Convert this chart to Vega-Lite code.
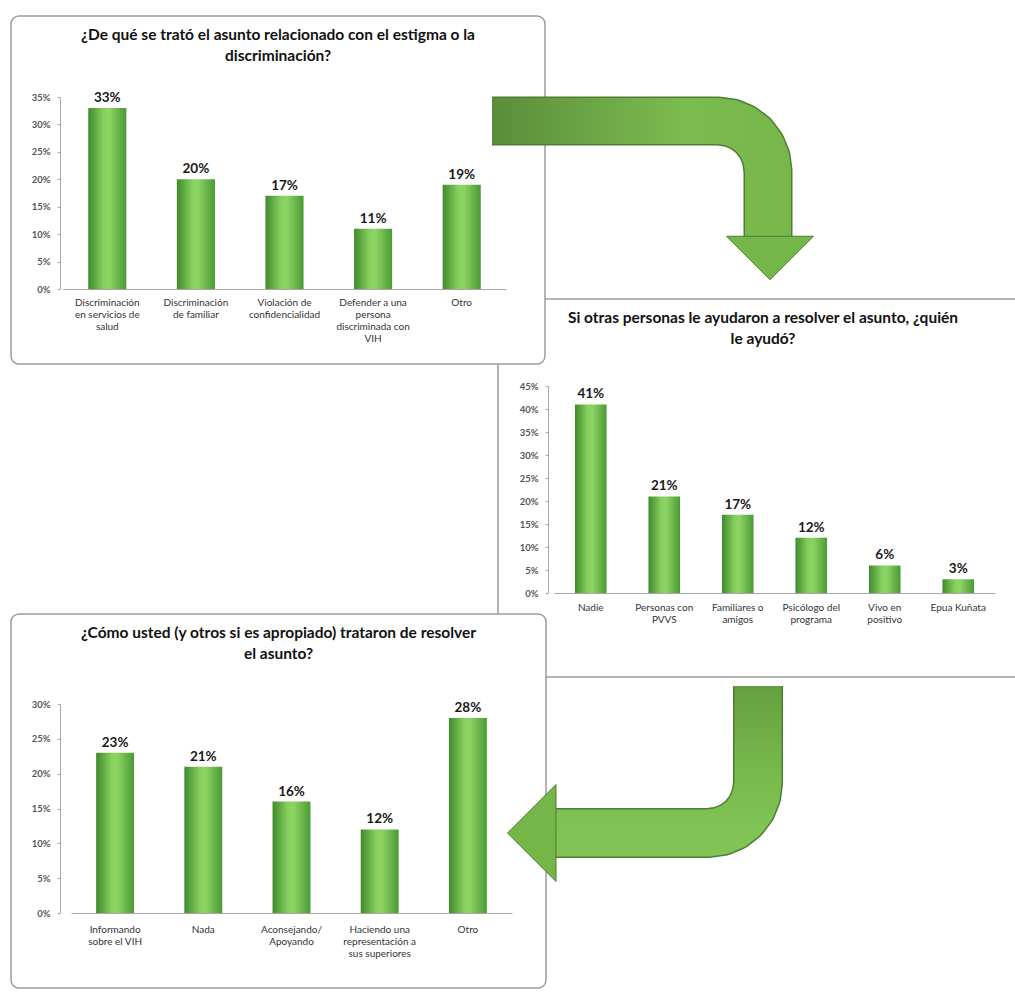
{
  "$schema": "https://vega.github.io/schema/vega-lite/v6.json",
  "background": "white",
  "padding": {"left": 8, "top": 15, "right": 0, "bottom": 5},
  "config": {"font": "Lato", "concat": {"spacing": 0}},
  "spacing": 0,
  "bounds": "flush",
  "vconcat": [
    {
      "spacing": 8,
      "bounds": "flush",
      "vconcat": [
        {
          "width": 1, "height": 275,
          "view": {"stroke": null, "fill": null},
          "data": {"values": [{"s": 1}]},
          "mark": {"type": "point", "opacity": 0},
          "encoding": {}
        },
        {
          "spacing": 0,
          "bounds": "flush",
          "hconcat": [
            {
              "width": 487, "height": 1,
              "view": {"stroke": null, "fill": null},
              "data": {"values": [{"s": 1}]},
              "mark": {"type": "point", "opacity": 0},
              "encoding": {}
            },
            {
              "width": 530,
              "height": 378,
              "view": {"stroke": "#9c9c9c", "strokeWidth": 1.5, "cornerRadius": 8, "fill": "white"},
              "title": {"text": ["Si otras personas le ayudaron a resolver el asunto, ¿quién", "le ayudó?"], "offset": -48, "fontSize": 15.5, "font": "Lato", "fontWeight": "bold", "lineHeight": 21, "anchor": "middle", "frame": "group", "color": "#111111"},
              "data": {"values": [
                {"cat": "Nadie", "value": 0.41},
                {"cat": "Personas con|PVVS", "value": 0.21},
                {"cat": "Familiares o|amigos", "value": 0.17},
                {"cat": "Psicólogo del|programa", "value": 0.12},
                {"cat": "Vivo en|positivo", "value": 0.06},
                {"cat": "Epua Kuñata", "value": 0.03}
              ]},
              "encoding": {
                "x": {"field": "cat", "type": "nominal", "sort": null,
                  "scale": {"range": [56, 497], "paddingInner": 0.57, "paddingOuter": 0.285},
                  "axis": {"title": null, "offset": -84, "labelExpr": "split(datum.label, '|')", "labelAngle": 0, "labelFont": "Lato", "labelFontSize": 10, "labelColor": "#333333", "labelLineHeight": 12, "labelPadding": 9, "ticks": false, "domainColor": "#a8a8a8", "labelLimit": 300, "labelBaseline": "top"}},
                "y": {"field": "value", "type": "quantitative",
                  "scale": {"domain": [0, 0.45], "range": [294, 87], "nice": false},
                  "axis": {"title": null, "offset": -50, "values": [0, 0.05, 0.1, 0.15, 0.2, 0.25, 0.3, 0.35, 0.4, 0.45], "format": ".0%", "labelFont": "Lato", "labelFontSize": 9.5, "labelFontWeight": "bold", "labelColor": "#555555", "domainColor": "#aaaaaa", "tickColor": "#aaaaaa", "tickSize": 3, "labelPadding": 7, "grid": false}}
              },
              "layer": [
                {"mark": {"type": "bar", "color": {"gradient": "linear", "stops": [{"offset": 0, "color": "#3f8a2c"}, {"offset": 0.4, "color": "#86cf5e"}, {"offset": 0.55, "color": "#8ed465"}, {"offset": 1, "color": "#4a9a34"}]}}},
                {"mark": {"type": "text", "dy": -10, "font": "Lato", "fontWeight": "bold", "fontSize": 13.5, "color": "#1a1a1a"}, "encoding": {"text": {"field": "value", "type": "quantitative", "format": ".0%"}}}
              ]
            }
          ]
        }
      ]
    },
    {
      "spacing": 250,
      "bounds": "flush",
      "vconcat": [
        {
          "width": 534,
          "height": 348,
          "view": {"stroke": "#9c9c9c", "strokeWidth": 1.5, "cornerRadius": 8, "fill": "white"},
          "title": {"text": ["¿De qué se trató el asunto relacionado con el estigma o la", "discriminación?"], "offset": -48, "fontSize": 15.5, "font": "Lato", "fontWeight": "bold", "lineHeight": 21, "anchor": "middle", "frame": "group", "color": "#111111"},
          "data": {"values": [
            {"cat": "Discriminación|en servicios de|salud", "value": 0.33},
            {"cat": "Discriminación|de familiar", "value": 0.20},
            {"cat": "Violación de|confidencialidad", "value": 0.17},
            {"cat": "Defender a una|persona|discriminada con|VIH", "value": 0.11},
            {"cat": "Otro", "value": 0.19}
          ]},
          "encoding": {
            "x": {"field": "cat", "type": "nominal", "sort": null,
              "scale": {"range": [52, 495], "paddingInner": 0.57, "paddingOuter": 0.285},
              "axis": {"title": null, "offset": -75, "labelExpr": "split(datum.label, '|')", "labelAngle": 0, "labelFont": "Lato", "labelFontSize": 10, "labelColor": "#333333", "labelLineHeight": 12, "labelPadding": 8, "ticks": false, "domainColor": "#a8a8a8", "labelLimit": 300, "labelBaseline": "top"}},
            "y": {"field": "value", "type": "quantitative",
              "scale": {"domain": [0, 0.35], "range": [273, 81], "nice": false},
              "axis": {"title": null, "offset": -49, "values": [0, 0.05, 0.1, 0.15, 0.2, 0.25, 0.3, 0.35], "format": ".0%", "labelFont": "Lato", "labelFontSize": 9.5, "labelFontWeight": "bold", "labelColor": "#555555", "domainColor": "#aaaaaa", "tickColor": "#aaaaaa", "tickSize": 3, "labelPadding": 7, "grid": false}}
          },
          "layer": [
            {"mark": {"type": "bar", "color": {"gradient": "linear", "stops": [{"offset": 0, "color": "#3f8a2c"}, {"offset": 0.4, "color": "#86cf5e"}, {"offset": 0.55, "color": "#8ed465"}, {"offset": 1, "color": "#4a9a34"}]}}},
            {"mark": {"type": "text", "dy": -10, "font": "Lato", "fontWeight": "bold", "fontSize": 13.5, "color": "#1a1a1a"}, "encoding": {"text": {"field": "value", "type": "quantitative", "format": ".0%"}}}
          ]
        },
        {
          "width": 535,
          "height": 374,
          "view": {"stroke": "#9c9c9c", "strokeWidth": 1.5, "cornerRadius": 8, "fill": "white"},
          "title": {"text": ["¿Cómo usted (y otros si es apropiado) trataron de resolver", "el asunto?"], "offset": -48, "fontSize": 15.5, "font": "Lato", "fontWeight": "bold", "lineHeight": 21, "anchor": "middle", "frame": "group", "color": "#111111"},
          "data": {"values": [
            {"cat": "Informando|sobre el VIH", "value": 0.23},
            {"cat": "Nada", "value": 0.21},
            {"cat": "Aconsejando/|Apoyando", "value": 0.16},
            {"cat": "Haciendo una|representación a|sus superiores", "value": 0.12},
            {"cat": "Otro", "value": 0.28}
          ]},
          "encoding": {
            "x": {"field": "cat", "type": "nominal", "sort": null,
              "scale": {"range": [60, 501], "paddingInner": 0.57, "paddingOuter": 0.285},
              "axis": {"title": null, "offset": -75, "labelExpr": "split(datum.label, '|')", "labelAngle": 0, "labelFont": "Lato", "labelFontSize": 10, "labelColor": "#333333", "labelLineHeight": 12, "labelPadding": 11, "ticks": false, "domainColor": "#a8a8a8", "labelLimit": 300, "labelBaseline": "top"}},
            "y": {"field": "value", "type": "quantitative",
              "scale": {"domain": [0, 0.30], "range": [299, 90], "nice": false},
              "axis": {"title": null, "offset": -49, "values": [0, 0.05, 0.1, 0.15, 0.2, 0.25, 0.3], "format": ".0%", "labelFont": "Lato", "labelFontSize": 9.5, "labelFontWeight": "bold", "labelColor": "#555555", "domainColor": "#aaaaaa", "tickColor": "#aaaaaa", "tickSize": 3, "labelPadding": 7, "grid": false}}
          },
          "layer": [
            {"mark": {"type": "bar", "color": {"gradient": "linear", "stops": [{"offset": 0, "color": "#3f8a2c"}, {"offset": 0.4, "color": "#86cf5e"}, {"offset": 0.55, "color": "#8ed465"}, {"offset": 1, "color": "#4a9a34"}]}}},
            {"mark": {"type": "text", "dy": -10, "font": "Lato", "fontWeight": "bold", "fontSize": 13.5, "color": "#1a1a1a"}, "encoding": {"text": {"field": "value", "type": "quantitative", "format": ".0%"}}}
          ]
        }
      ]
    },
    {
      "width": 1007,
      "height": 977,
      "view": {"stroke": null, "fill": null},
      "data": {"values": [
        {"arrow": "a1", "part": "shaft", "i": 0, "x": 481, "y": 105},
        {"arrow": "a1", "part": "shaft", "i": 1, "x": 707, "y": 105},
        {"arrow": "a1", "part": "shaft", "i": 2, "x": 719.9, "y": 106.7},
        {"arrow": "a1", "part": "shaft", "i": 3, "x": 732, "y": 111.7},
        {"arrow": "a1", "part": "shaft", "i": 4, "x": 742.4, "y": 119.6},
        {"arrow": "a1", "part": "shaft", "i": 5, "x": 750.3, "y": 130},
        {"arrow": "a1", "part": "shaft", "i": 6, "x": 755.3, "y": 142.1},
        {"arrow": "a1", "part": "shaft", "i": 7, "x": 757, "y": 155},
        {"arrow": "a1", "part": "shaft", "i": 8, "x": 757, "y": 221},
        {"arrow": "a1", "part": "head", "i": 0, "x": 759, "y": 242},
        {"arrow": "a2", "part": "shaft", "i": 0, "x": 747, "y": 670},
        {"arrow": "a2", "part": "shaft", "i": 1, "x": 747, "y": 767},
        {"arrow": "a2", "part": "shaft", "i": 2, "x": 745.3, "y": 779.9},
        {"arrow": "a2", "part": "shaft", "i": 3, "x": 740.3, "y": 792},
        {"arrow": "a2", "part": "shaft", "i": 4, "x": 732.4, "y": 802.4},
        {"arrow": "a2", "part": "shaft", "i": 5, "x": 722, "y": 810.3},
        {"arrow": "a2", "part": "shaft", "i": 6, "x": 709.9, "y": 815.3},
        {"arrow": "a2", "part": "shaft", "i": 7, "x": 697, "y": 817},
        {"arrow": "a2", "part": "shaft", "i": 8, "x": 544, "y": 817},
        {"arrow": "a2", "part": "head", "i": 0, "x": 520.75, "y": 817}
      ]},
      "encoding": {
        "x": {"field": "x", "type": "quantitative", "scale": {"domain": [0, 1007], "nice": false, "zero": false}, "axis": null},
        "y": {"field": "y", "type": "quantitative", "scale": {"domain": [0, 977], "nice": false, "zero": false, "reverse": true}, "axis": null}
      },
      "layer": [
        {"transform": [{"filter": "datum.arrow == 'a1' && datum.part == 'shaft'"}], "mark": {"type": "line", "strokeWidth": 49, "stroke": "#4e7d33", "strokeCap": "butt", "strokeJoin": "round", "clip": false}, "encoding": {"order": {"field": "i", "type": "quantitative"}}},
        {"transform": [{"filter": "datum.arrow == 'a1' && datum.part == 'shaft'"}], "mark": {"type": "line", "strokeWidth": 46, "strokeCap": "butt", "strokeJoin": "round", "clip": false, "stroke": {"gradient": "linear", "stops": [{"offset": 0, "color": "#5b8d3b"}, {"offset": 0.7, "color": "#7cbc4f"}, {"offset": 1, "color": "#78b84b"}]}}, "encoding": {"order": {"field": "i", "type": "quantitative"}}},
        {"transform": [{"filter": "datum.arrow == 'a1' && datum.part == 'head'"}], "mark": {"type": "point", "shape": "M-1,-0.5L1,-0.5L0,0.5Z", "size": 7569, "filled": true, "opacity": 1, "fill": "#74b748", "stroke": "#4e7d33", "strokeWidth": 1, "clip": false}},
        {"transform": [{"filter": "datum.arrow == 'a2' && datum.part == 'shaft'"}], "mark": {"type": "line", "strokeWidth": 50, "stroke": "#4e7d33", "strokeCap": "butt", "strokeJoin": "round", "clip": false}, "encoding": {"order": {"field": "i", "type": "quantitative"}}},
        {"transform": [{"filter": "datum.arrow == 'a2' && datum.part == 'shaft'"}], "mark": {"type": "line", "strokeWidth": 47, "strokeCap": "butt", "strokeJoin": "round", "clip": false, "stroke": {"gradient": "linear", "x1": 0, "y1": 0, "x2": 0, "y2": 1, "stops": [{"offset": 0, "color": "#65a03f"}, {"offset": 0.6, "color": "#78ba4c"}, {"offset": 1, "color": "#80c455"}]}}, "encoding": {"order": {"field": "i", "type": "quantitative"}}},
        {"transform": [{"filter": "datum.arrow == 'a2' && datum.part == 'head'"}], "mark": {"type": "point", "shape": "M0.5,-1L0.5,1L-0.5,0Z", "size": 9409, "filled": true, "opacity": 1, "fill": "#74b748", "stroke": "#4e7d33", "strokeWidth": 1, "clip": false}}
      ]
    }
  ]
}
